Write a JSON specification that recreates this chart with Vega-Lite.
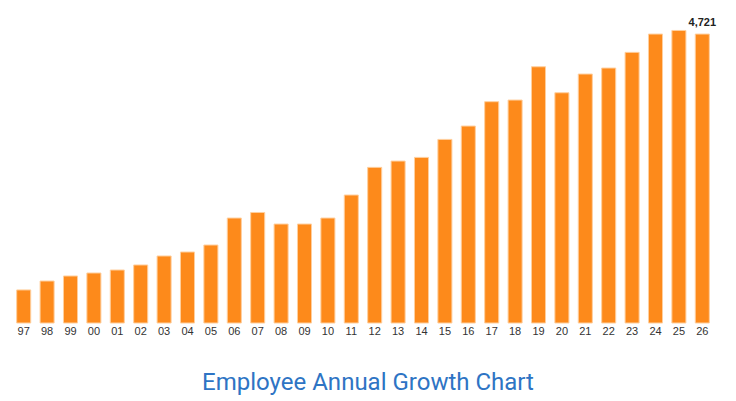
{
  "$schema": "https://vega.github.io/schema/vega-lite/v6.json",
  "autosize": {"type": "none"},
  "padding": {"left": 12, "top": 17, "right": 22, "bottom": 78},
  "width": 702,
  "height": 306,
  "background": "#ffffff",
  "view": {"stroke": null},
  "title": {
    "text": "Employee Annual Growth Chart",
    "orient": "bottom",
    "anchor": "middle",
    "font": "Roboto",
    "fontSize": 24,
    "fontWeight": "normal",
    "color": "#2e74c4",
    "offset": 35,
    "dx": 5
  },
  "data": {
    "values": [
      {"year": "97", "employees": 540},
      {"year": "98", "employees": 686},
      {"year": "99", "employees": 768},
      {"year": "00", "employees": 817},
      {"year": "01", "employees": 866},
      {"year": "02", "employees": 948},
      {"year": "03", "employees": 1095},
      {"year": "04", "employees": 1160},
      {"year": "05", "employees": 1274},
      {"year": "06", "employees": 1715},
      {"year": "07", "employees": 1806},
      {"year": "08", "employees": 1617},
      {"year": "09", "employees": 1617},
      {"year": "10", "employees": 1715},
      {"year": "11", "employees": 2091},
      {"year": "12", "employees": 2543},
      {"year": "13", "employees": 2646},
      {"year": "14", "employees": 2706},
      {"year": "15", "employees": 3000},
      {"year": "16", "employees": 3218},
      {"year": "17", "employees": 3616},
      {"year": "18", "employees": 3643},
      {"year": "19", "employees": 4187},
      {"year": "20", "employees": 3762},
      {"year": "21", "employees": 4068},
      {"year": "22", "employees": 4166},
      {"year": "23", "employees": 4422},
      {"year": "24", "employees": 4721},
      {"year": "25", "employees": 4780},
      {"year": "26", "employees": 4721}
    ]
  },
  "encoding": {
    "x": {
      "field": "year",
      "type": "ordinal",
      "sort": null,
      "scale": {"paddingInner": 0.4, "paddingOuter": 0.2},
      "axis": {
        "title": null,
        "domain": false,
        "ticks": false,
        "labelAngle": 0,
        "labelPadding": 2,
        "labelFont": "Liberation Sans",
        "labelFontSize": 11,
        "labelColor": "#333333"
      }
    },
    "y": {
      "field": "employees",
      "type": "quantitative",
      "scale": {"domain": [0, 5000], "nice": false},
      "axis": null
    }
  },
  "layer": [
    {
      "mark": {"type": "bar", "color": "#fd8a1b", "stroke": "#ffcf9e", "strokeWidth": 1}
    },
    {
      "transform": [{"filter": "datum.year == '26'"}],
      "mark": {
        "type": "text",
        "baseline": "bottom",
        "dy": -6,
        "font": "Liberation Sans",
        "fontSize": 11,
        "fontWeight": "bold",
        "color": "#222222"
      },
      "encoding": {
        "text": {"field": "employees", "type": "quantitative", "format": ","}
      }
    }
  ]
}
